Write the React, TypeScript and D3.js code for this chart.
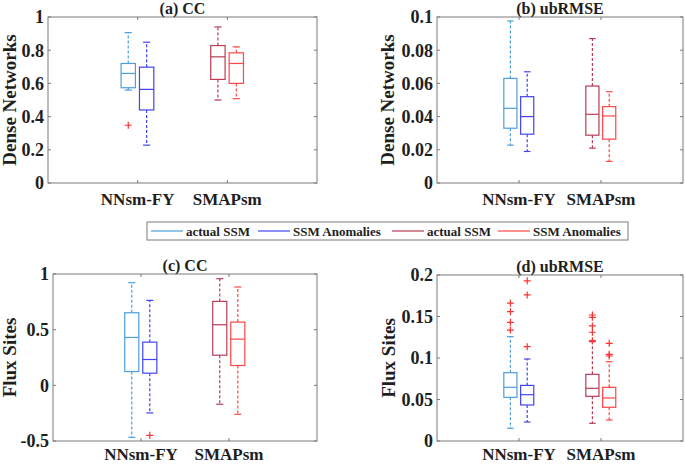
import React from "react";
import * as d3 from "d3";

// groups on the x axis
const categories = ["NNsm-FY", "SMAPsm"];

// legend entries (NNsm actual, NNsm anomalies, SMAP actual, SMAP anomalies)
const seriesNames = ["actual SSM", "SSM Anomalies", "actual SSM", "SSM Anomalies"];
const seriesColors = ["#4d9fdc", "#4343f2", "#b83d55", "#ff4545"];
const seriesCategory = [0, 0, 1, 1];
const seriesOffset = [-0.105, 0.1, -0.105, 0.1];

// box stats: [low whisker, q1, median, q3, high whisker]
const ccDense = [
  [0.56, 0.574, 0.66, 0.72, 0.906],
  [0.228, 0.44, 0.564, 0.698, 0.848],
  [0.5, 0.624, 0.76, 0.828, 0.94],
  [0.508, 0.6, 0.72, 0.784, 0.82],
];
const ccDenseOut = [[0.348], [], [], []];

const ubDense = [
  [0.0228, 0.033, 0.045, 0.063, 0.0976],
  [0.019, 0.0294, 0.04, 0.052, 0.067],
  [0.021, 0.0288, 0.0414, 0.0584, 0.087],
  [0.013, 0.0264, 0.0404, 0.046, 0.055],
];
const ubDenseOut = [[], [], [], []];

const ccFlux = [
  [-0.467, 0.124, 0.43, 0.652, 0.922],
  [-0.248, 0.109, 0.232, 0.388, 0.763],
  [-0.17, 0.271, 0.544, 0.754, 0.958],
  [-0.26, 0.178, 0.415, 0.568, 0.883],
];
const ccFluxOut = [[], [-0.449], [], []];

const ubFlux = [
  [0.0153, 0.0526, 0.0647, 0.0823, 0.1257],
  [0.0229, 0.0434, 0.0558, 0.067, 0.0988],
  [0.0213, 0.0538, 0.0635, 0.0803, 0.1197],
  [0.0253, 0.0406, 0.0518, 0.0647, 0.0956],
];
const ubFluxOut = [
  [0.1337, 0.143, 0.1558, 0.166],
  [0.1137, 0.176, 0.193],
  [0.1209, 0.131, 0.1386, 0.149, 0.1518],
  [0.1024, 0.1044, 0.1177],
];

const ticksCC = [0, 0.2, 0.4, 0.6, 0.8, 1];
const ticksUbDense = [0, 0.02, 0.04, 0.06, 0.08, 0.1];
const ticksCCFlux = [-0.5, 0, 0.5, 1];
const ticksUbFlux = [0, 0.05, 0.1, 0.15, 0.2];

const panels = [
  { title: "(a) CC", ylabel: "Dense Networks", stats: ccDense, out: ccDenseOut, ticks: ticksCC, domain: [0, 1], x: 48, y: 17, w: 269, h: 166, lx: 16, xl: 22 },
  { title: "(b) ubRMSE", ylabel: "Dense Networks", stats: ubDense, out: ubDenseOut, ticks: ticksUbDense, domain: [0, 0.1], x: 437, y: 17, w: 246, h: 166, lx: 394, xl: 22 },
  { title: "(c) CC", ylabel: "Flux Sites", stats: ccFlux, out: ccFluxOut, ticks: ticksCCFlux, domain: [-0.5, 1], x: 53, y: 274, w: 264, h: 167, lx: 16, xl: 19 },
  { title: "(d) ubRMSE", ylabel: "Flux Sites", stats: ubFlux, out: ubFluxOut, ticks: ticksUbFlux, domain: [0, 0.2], x: 437, y: 275, w: 246, h: 166, lx: 395, xl: 19 },
];

const txt = { fontFamily: "Liberation Serif", fontWeight: "bold" as const, fill: "#1e1e1e" };
const axisColor = "#7a7a7a";

function Panel({ p }: { p: any }) {
  const x = d3.scaleLinear().domain([0, 3]).range([p.x, p.x + p.w]);
  const y = d3.scaleLinear().domain(p.domain).range([p.y + p.h, p.y]);
  const bw = x(0.16) - x(0);
  const cw = bw / 2;
  const tl = 3;
  return (
    <g>
      <rect x={p.x} y={p.y} width={p.w} height={p.h} fill="white" stroke={axisColor} strokeWidth={1} />
      {p.ticks.map((t: number) => (
        <g key={t}>
          <line x1={p.x} x2={p.x + tl} y1={y(t)} y2={y(t)} stroke={axisColor} />
          <line x1={p.x + p.w} x2={p.x + p.w - tl} y1={y(t)} y2={y(t)} stroke={axisColor} />
          <text x={p.x - 4} y={y(t)} dy="0.35em" textAnchor="end" style={{ ...txt, fontSize: 18 }}>
            {String(+t.toFixed(3))}
          </text>
        </g>
      ))}
      {categories.map((c, i) => (
        <g key={c}>
          <line x1={x(i + 1)} x2={x(i + 1)} y1={p.y + p.h} y2={p.y + p.h - tl} stroke={axisColor} />
          <line x1={x(i + 1)} x2={x(i + 1)} y1={p.y} y2={p.y + tl} stroke={axisColor} />
          <text x={x(i + 1)} y={p.y + p.h + p.xl} textAnchor="middle" style={{ ...txt, fontSize: 17 }}>
            {c}
          </text>
        </g>
      ))}
      {p.stats.map((s: number[], k: number) => {
        const cx = x(seriesCategory[k] + 1 + seriesOffset[k]);
        const col = seriesColors[k];
        return (
          <g key={k} stroke={col} fill="none" strokeWidth={1.2}>
            <line x1={cx} x2={cx} y1={y(s[3])} y2={y(s[4])} strokeDasharray="3,2" />
            <line x1={cx} x2={cx} y1={y(s[1])} y2={y(s[0])} strokeDasharray="3,2" />
            <line x1={cx - cw / 2} x2={cx + cw / 2} y1={y(s[4])} y2={y(s[4])} />
            <line x1={cx - cw / 2} x2={cx + cw / 2} y1={y(s[0])} y2={y(s[0])} />
            <rect x={cx - bw / 2} y={y(s[3])} width={bw} height={y(s[1]) - y(s[3])} fill="white" />
            <line x1={cx - bw / 2} x2={cx + bw / 2} y1={y(s[2])} y2={y(s[2])} />
            {p.out[k].map((o: number, j: number) => (
              <path key={j} d={`M${cx - 3.5},${y(o)}h7M${cx},${y(o) - 3.5}v7`} stroke="#ff3030" />
            ))}
          </g>
        );
      })}
      <text x={p.x + p.w / 2} y={p.y - 3} textAnchor="middle" style={{ ...txt, fontSize: 16 }}>
        {p.title}
      </text>
      <text transform={`translate(${p.lx},${p.y + p.h / 2}) rotate(-90)`} textAnchor="middle" style={{ ...txt, fontSize: 19 }}>
        {p.ylabel}
      </text>
    </g>
  );
}

const legendX = [151, 258, 392, 498];

export default function App() {
  return (
    <svg width={685} height={464} style={{ position: "absolute", left: 0, top: 0, background: "white" }}>
      {panels.map((p, i) => (
        <Panel key={i} p={p} />
      ))}
      <g>
        <rect x={147} y={222} width={481} height={18} fill="white" stroke={axisColor} />
        {seriesNames.map((n, i) => (
          <g key={i}>
            <line x1={legendX[i]} x2={legendX[i] + 32} y1={231} y2={231} stroke={seriesColors[i]} strokeWidth={1.2} />
            <text x={legendX[i] + 35} y={235.5} style={{ ...txt, fontSize: 13 }}>
              {n}
            </text>
          </g>
        ))}
      </g>
    </svg>
  );
}
